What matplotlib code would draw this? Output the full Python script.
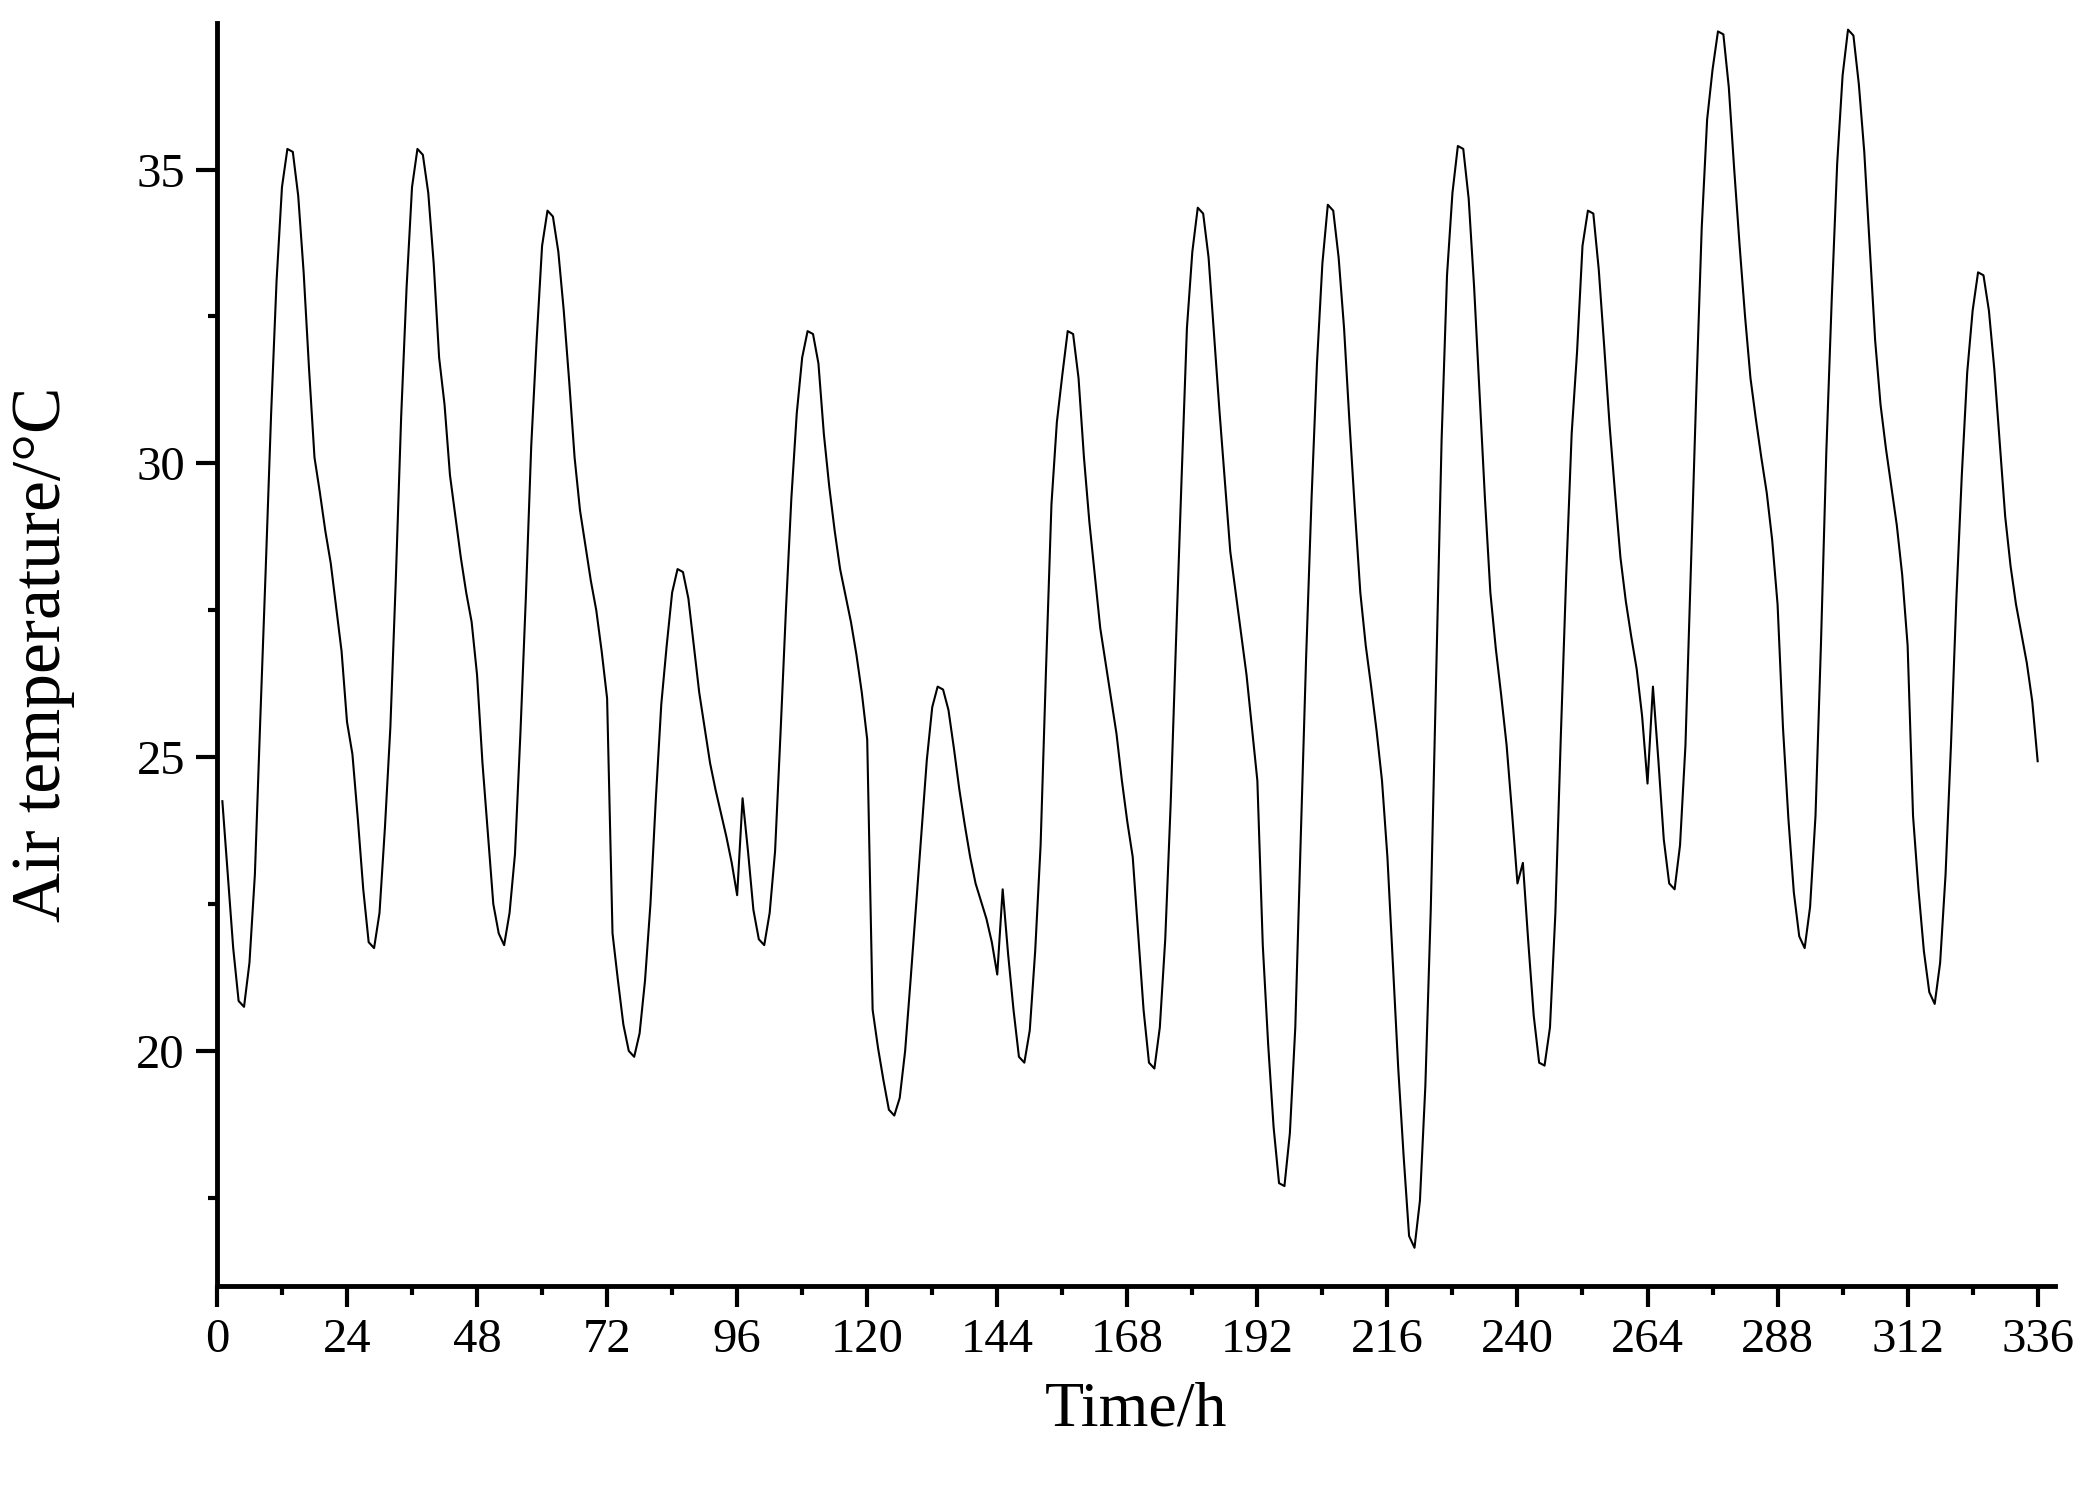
import matplotlib.pyplot as plt
import numpy as np

# hourly air temperature (deg C), hours 1..336
hours = np.arange(1, 337)
temperature = [
    24.25, 23.0, 21.75, 20.85, 20.75, 21.5, 23.0, 25.65, 28.2, 30.85, 33.1, 34.7,
    35.35, 35.3, 34.55, 33.25, 31.6, 30.1, 29.5, 28.85, 28.3, 27.55, 26.8, 25.6,
    25.05, 23.95, 22.75, 21.85, 21.75, 22.35, 23.8, 25.5, 28.0, 30.8, 33.0, 34.7,
    35.35, 35.25, 34.6, 33.4, 31.8, 31.0, 29.8, 29.1, 28.4, 27.8, 27.3, 26.4,
    24.9, 23.7, 22.5, 22.0, 21.8, 22.35, 23.35, 25.4, 27.7, 30.3, 32.1, 33.7,
    34.3, 34.2, 33.6, 32.6, 31.4, 30.1, 29.2, 28.6, 28.0, 27.5, 26.8, 26.0,
    22.0, 21.2, 20.45, 20.0, 19.9, 20.3, 21.2, 22.5, 24.3, 25.9, 26.9, 27.8,
    28.2, 28.15, 27.7, 26.9, 26.1, 25.5, 24.9, 24.45, 24.05, 23.65, 23.2, 22.65,
    24.3, 23.4, 22.4, 21.9, 21.8, 22.35, 23.4, 25.4, 27.5, 29.4, 30.85, 31.8,
    32.25, 32.2, 31.7, 30.5, 29.6, 28.85, 28.2, 27.75, 27.3, 26.75, 26.1, 25.3,
    20.7, 20.05, 19.5, 19.0, 18.9, 19.2, 20.0, 21.2, 22.45, 23.7, 24.95, 25.85,
    26.2, 26.15, 25.8, 25.15, 24.45, 23.85, 23.3, 22.85, 22.55, 22.25, 21.85, 21.3,
    22.75, 21.65, 20.7, 19.9, 19.8, 20.35, 21.7, 23.5, 26.5, 29.3, 30.7, 31.5,
    32.25, 32.2, 31.45, 30.1, 29.0, 28.1, 27.2, 26.6, 26.0, 25.4, 24.6, 23.9,
    23.3, 22.0, 20.7, 19.8, 19.7, 20.4, 21.9, 24.2, 27.0, 29.7, 32.3, 33.6,
    34.35, 34.25, 33.5, 32.2, 30.9, 29.7, 28.5, 27.8, 27.1, 26.4, 25.5, 24.6,
    21.8, 20.1, 18.7, 17.75, 17.7, 18.6, 20.4, 23.6, 26.7, 29.4, 31.7, 33.4,
    34.4, 34.3, 33.5, 32.3, 30.7, 29.2, 27.8, 26.9, 26.2, 25.45, 24.6, 23.3,
    21.5, 19.7, 18.2, 16.85, 16.65, 17.45, 19.4, 22.4, 26.4, 30.4, 33.2, 34.6,
    35.4, 35.35, 34.5, 33.0, 31.2, 29.4, 27.8, 26.85, 26.05, 25.2, 24.05, 22.85,
    23.2, 21.85, 20.6, 19.8, 19.75, 20.4, 22.35, 25.35, 28.1, 30.5, 31.9, 33.7,
    34.3, 34.25, 33.3, 32.0, 30.65, 29.5, 28.4, 27.65, 27.05, 26.5, 25.7, 24.55,
    26.2, 24.95, 23.6, 22.85, 22.75, 23.5, 25.2, 28.2, 31.2, 34.0, 35.85, 36.7,
    37.35, 37.3, 36.4, 35.0, 33.7, 32.5, 31.45, 30.75, 30.1, 29.5, 28.7, 27.6,
    25.5, 23.95, 22.7, 21.95, 21.75, 22.45, 24.0, 26.9, 30.2, 32.8, 35.1, 36.6,
    37.38, 37.28, 36.45, 35.3, 33.7, 32.1, 31.0, 30.25, 29.6, 28.95, 28.1, 26.9,
    24.0, 22.75, 21.7, 21.0, 20.8, 21.5, 23.0, 25.2, 27.7, 29.8, 31.55, 32.6,
    33.25, 33.2, 32.6, 31.6, 30.35, 29.1, 28.25, 27.6, 27.1, 26.6, 25.95, 24.93,
]

xticks = [0, 24, 48, 72, 96, 120, 144, 168, 192, 216, 240, 264, 288, 312, 336]
yticks = [20, 25, 30, 35]

plt.rcParams['font.family'] = ['Liberation Serif', 'DejaVu Serif']

fig = plt.figure(figsize=(20.88, 14.87), dpi=100)
ax = fig.add_axes([0.1039, 0.1352, 0.8803, 0.8496])

ax.plot(hours, temperature, color='black', linewidth=1.5)

ax.set_xlim(0, 339.2)
ax.set_ylim(16.0, 37.5)
ax.set_xticks(xticks)
ax.set_xticks(np.arange(12, 337, 24), minor=True)
ax.set_yticks(yticks)
ax.set_yticks([17.5, 22.5, 27.5, 32.5], minor=True)

for side in ['top', 'right']:
    ax.spines[side].set_visible(False)
for side in ['left', 'bottom']:
    ax.spines[side].set_linewidth(3.5)

ax.tick_params(which='major', direction='out', length=15, width=3, labelsize=35, pad=8)
ax.tick_params(which='minor', direction='out', length=6.5, width=3)

ax.set_xlabel("Time/h", fontsize=46, labelpad=14)
ax.set_ylabel("Air temperature/°C", fontsize=50, labelpad=44)

fig.savefig("out.png", dpi=100)
